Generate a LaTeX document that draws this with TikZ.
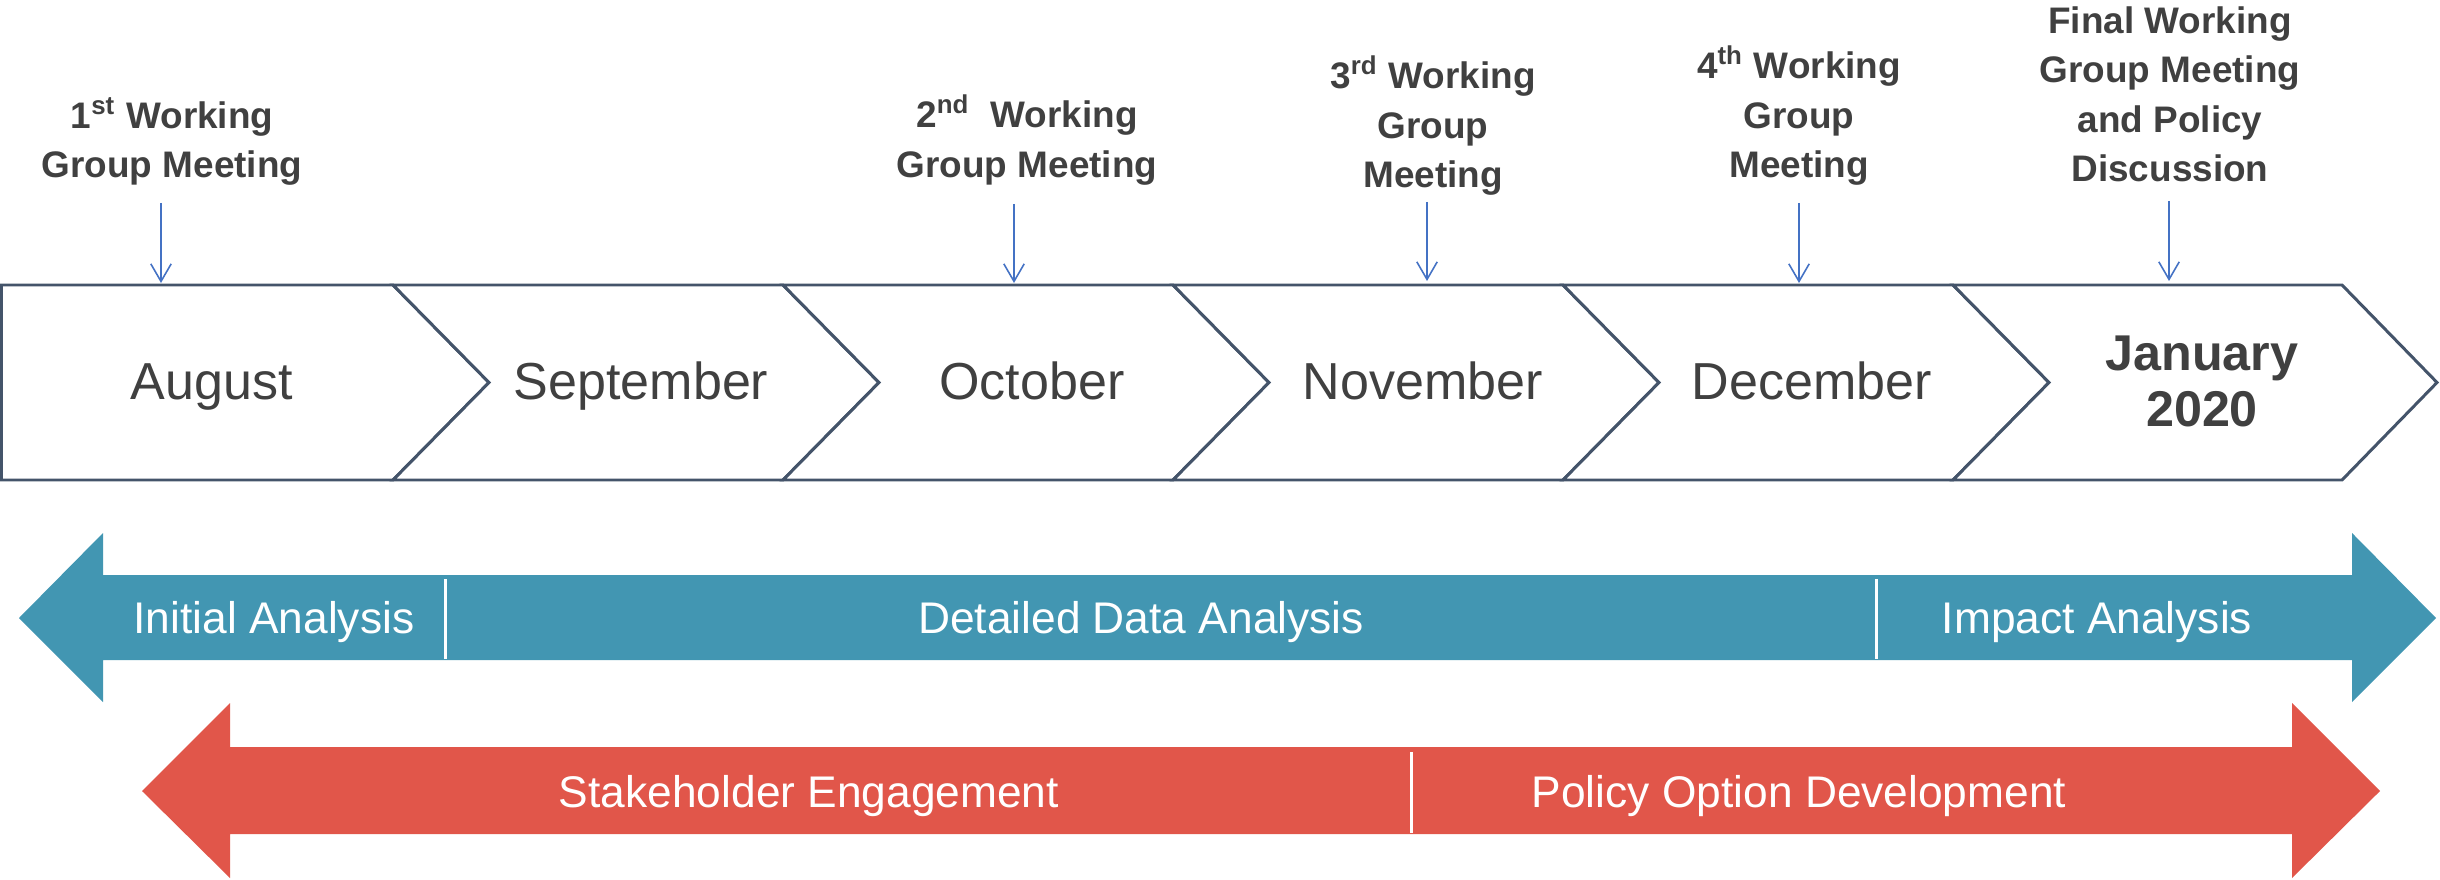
\documentclass[tikz,border=0pt]{standalone}
\usepackage{fontspec}
\setmainfont{Liberation Sans}
\usetikzlibrary{arrows.meta}
\definecolor{txtgray}{RGB}{64,64,64}
\definecolor{chevline}{RGB}{68,84,106}
\definecolor{meetblue}{RGB}{68,114,196}
\definecolor{teal}{RGB}{66,150,178}
\definecolor{redarr}{RGB}{225,86,74}
\tikzset{
  chev/.style={draw=chevline, line width=0.85pt, fill=white, line join=miter},
  month/.style={inner sep=0pt, anchor=base, text=txtgray, font=\fontsize{14.8pt}{17pt}\selectfont},
  monthbold/.style={inner sep=0pt, anchor=base, text=txtgray, align=center, font=\fontsize{14.3pt}{15.9pt}\selectfont\bfseries},
  meetlabel/.style={inner sep=0pt, anchor=base, text=txtgray, align=center, font=\fontsize{10.5pt}{14.1pt}\selectfont\bfseries},
  meetarrow/.style={draw=meetblue, line width=0.45pt, -{Straight Barb[length=5pt,width=5.8pt,line width=0.45pt]}},
  barlabel/.style={inner sep=0pt, anchor=base, text=white, font=\fontsize{12.6pt}{15pt}\selectfont},
  divider/.style={draw=white, line width=0.85pt},
}
\begin{document}
\begin{tikzpicture}[x=0.01cm, y=-0.01cm]
\useasboundingbox (0,0) rectangle (2440,879);
% chevrons
\draw[chev] (1.5,285) -- (393,285) -- (489,382.5) -- (393,480) -- (1.5,480) -- cycle;
\foreach \a/\b in {393/783, 783/1173, 1173/1563, 1563/1953}{
  \draw[chev] (\a,285) -- (\b,285) -- ({\b+96},382.5) -- (\b,480) -- (\a,480) -- ({\a+96},382.5) -- cycle;
}
\draw[chev] (1953,285) -- (2342,285) -- (2437,382.5) -- (2342,480) -- (1953,480) -- (2049,382.5) -- cycle;
% month labels
\node[month] (aug) at (212,399) {August};
\node[month] (sep) at (641,399) {September};
\node[month] (oct) at (1032,399) {October};
\node[month] (nov) at (1423,399) {November};
\node[month] (dec) at (1812,399) {December};
\node[monthbold] (jan) at (2202,426) {January\\2020};
% meeting labels (anchor = baseline of last line)
\node[meetlabel] (m1) at (172,178) {1\textsuperscript{st} Working\\Group Meeting};
\node[meetlabel] (m2) at (1027,177) {2\textsuperscript{nd}\ \ Working\\Group Meeting};
\node[meetlabel] (m3) at (1433,188) {3\textsuperscript{rd} Working\\Group\\Meeting};
\node[meetlabel] (m4) at (1799,178) {4\textsuperscript{th} Working\\Group\\Meeting};
\node[meetlabel] (m5) at (2170,182) {Final Working\\Group Meeting\\and Policy\\Discussion};
% meeting arrows
\coordinate (s1) at (161,203); \coordinate (e1) at (161,283);
\coordinate (s2) at (1014,204); \coordinate (e2) at (1014,283);
\coordinate (s3) at (1427,202); \coordinate (e3) at (1427,281);
\coordinate (s4) at (1799,203); \coordinate (e4) at (1799,283);
\coordinate (s5) at (2169,201); \coordinate (e5) at (2169,281);
\foreach \i in {1,...,5}{\draw[meetarrow] (s\i) -- (e\i);}
% blue double arrow
\fill[teal] (19,618) -- (103,533) -- (103,575) -- (2352,575) -- (2352,533) -- (2436,618) -- (2352,702) -- (2352,660) -- (103,660) -- (103,702) -- cycle;
\draw[divider] (445,579) -- (445,659);
\draw[divider] (1876,579) -- (1876,659);
\node[barlabel] (ia) at (274,633) {Initial Analysis};
\node[barlabel] (dda) at (1141,633) {Detailed Data Analysis};
\node[barlabel] (impa) at (2097,633) {Impact Analysis};
% red double arrow
\fill[redarr] (142,791) -- (230,703) -- (230,747) -- (2292,747) -- (2292,703) -- (2380,791) -- (2292,878) -- (2292,834) -- (230,834) -- (230,878) -- cycle;
\draw[divider] (1411,752) -- (1411,833);
\node[barlabel] (se) at (809,807) {Stakeholder Engagement};
\node[barlabel] (pod) at (1799,807) {Policy Option Development};
\end{tikzpicture}
\end{document}
